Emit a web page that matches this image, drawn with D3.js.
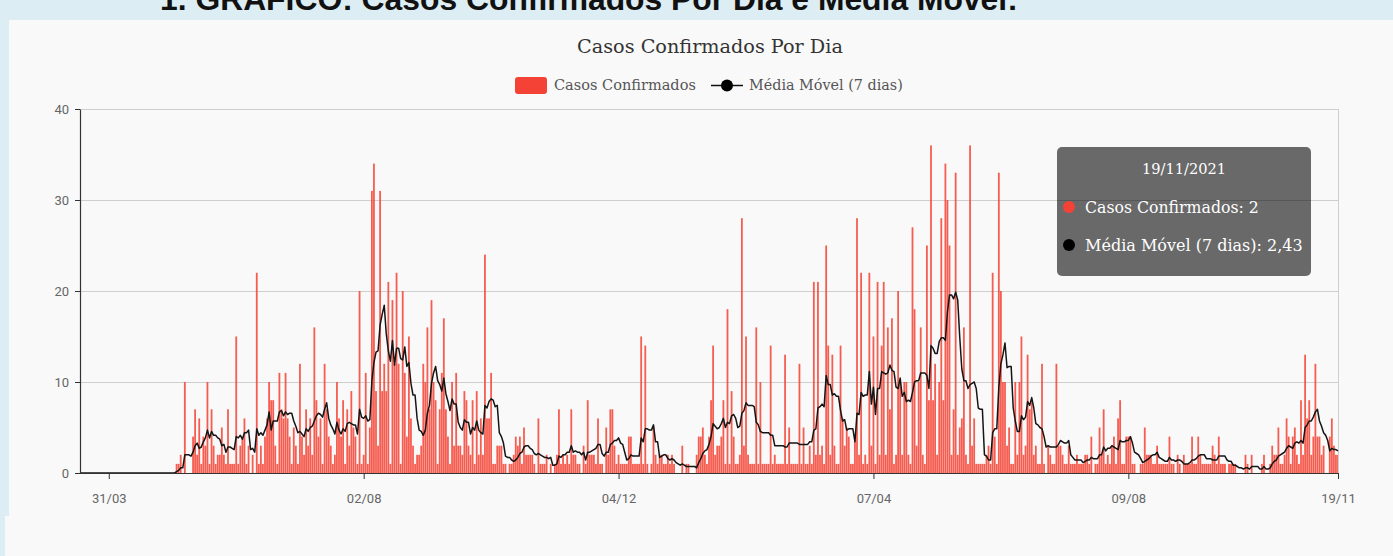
<!DOCTYPE html>
<html>
<head>
<meta charset="utf-8">
<script src="https://cdn.jsdelivr.net/npm/d3@7"></script>
<style>
body { margin: 0; background: #dcedf3; overflow: hidden; }
svg { display: block; }
</style>
</head>
<body>
<svg id="grafico" width="1393" height="556"></svg>
<script>
// casos diários, a partir de 17/03/2020 até 19/11/2021
var dataInicio = "2020-03-17";
var casos = [
    0,0,0,0,0,0,0,0,0,0, 0,0,0,0,0,0,0,0,0,0, 0,0,0,0,0,0,0,0,0,0,
    0,0,0,0,0,0,0,0,0,0, 0,0,0,0,0,0,0,
    1,1,2,0,10,0,0,0,4,7, 2,6,1,4,3,10,1,7,3,1, 2,2,5,2,1,7,1,1,1,15,
    1,3,4,6,1,3,0,2,0,22, 1,3,1,4,6,10,8,8,3,1, 11,7,6,11,6,4,1,5,3,1,
    12,4,2,7,3,6,2,16,8,4, 6,1,12,7,4,3,1,2,10,6, 4,8,1,7,3,9,5,4,1,20,
    1,2,11,1,5,31,34,9,3,31, 9,12,9,21,1,19,12,22,12,1, 20,11,4,15,6,3,1,2,2,3,
    12,10,16,7,19,10,8,1,7,11, 17,7,4,1,10,3,11,3,3,2, 9,8,3,2,8,1,9,2,6,2,
    24,6,6,
    11,1,1,3,3,3,1,1,0,1, 1,2,4,3,4,1,5,2,2,2, 2,1,0,6,1,1,1,2,0,1,
    0,1,2,7,1,2,1,2,1,7, 2,2,1,1,0,3,1,8,2,2, 2,1,6,1,1,0,5,2,7,7,
    3,1,2,1,1,1,1,4,4,1, 1,1,1,15,1,14,1,0,1,5, 2,1,2,2,1,1,2,1,2,1,
    0,0,0,3,0,1,1,0,0,0, 2,4,4,5,2,1,4,8,14,2, 3,3,4,8,1,18,1,9,4,1,
    1,2,28,3,15,2,1,1,1,16, 1,10,1,1,1,1,14,1,2,1, 1,1,1,13,1,5,1,1,1,1,
    12,1,5,1,1,
    3,1,21,2,21,2,3,1,25,14, 2,13,3,1,1,14,6,3,5,4, 1,1,4,28,2,22,1,2,1,22,
    3,15,1,21,2,14,21,2,16,7, 17,1,2,20,10,2,10,10,2,1, 27,18,3,10,16,2,1,25,8,36,
    8,12,2,10,28,8,34,30,25,2, 7,33,2,5,6,16,2,1,36,3, 6,1,1,1,1,1,2,3,1,22,
    4,1,33,20,10,10,3,5,1,1, 10,2,10,15,2,3,13,7,8,2, 3,1,1,12,1,0,3,2,1,1,
    12,3,3,2,1,1,3,1,1,1, 2,1,1,1,2,2,1,4,0,1, 1,5,2,7,1,2,1,3,4,1,
    6,
    8,1,1,4,4,4,1,1,0,0, 1,1,5,2,2,2,1,1,3,1, 1,1,1,1,4,1,1,0,2,1,
    0,2,1,1,1,4,1,1,4,2, 1,1,1,1,1,3,2,1,4,1, 1,1,0,1,1,1,1,0,0,0,
    0,2,1,0,2,0,0,0,0,1, 2,0,0,1,
    3,2,2,5,1,1,2,6,4,1, 4,5,2,1,8,2,13,6,8,2, 4,12,4,4,2,3,0,0,4,6,
    3,2,2
];
var tickDatas = ["2020-03-31", "2020-08-02", "2020-12-04", "2021-04-07", "2021-08-09", "2021-11-19"];
var tickLabels = ["31/03", "02/08", "04/12", "07/04", "09/08", "19/11"];
var yTicks = [0, 10, 20, 30, 40];
var serieNomes = ["Casos Confirmados", "Média Móvel (7 dias)"];

var parseTime = d3.timeParse("%Y-%m-%d"),
    formatTooltip = d3.timeFormat("%d/%m/%Y"),
    formatMedia = d3.format(".2f");

var inicio = parseTime(dataInicio);

// média móvel de 7 dias
var data = casos.map(function(v, i) {
    var janela = casos.slice(Math.max(0, i - 6), i + 1);
    return { date: d3.timeDay.offset(inicio, i), casos: v, media: d3.mean(janela) };
});

var svg = d3.select("#grafico"),
    margin = {top: 109, right: 55, bottom: 83, left: 80},
    W = 1393, H = 556;

var serif = "'DejaVu Serif', serif",
    sans = "Roboto, 'Liberation Sans', sans-serif";

// ajusta o tamanho da fonte para a largura desejada
function fit(sel, size, largura) {
    sel.attr("font-size", size);
    var w = sel.node().getComputedTextLength();
    sel.attr("font-size", size * largura / w);
    return sel;
}

// fundo e painel
svg.append("rect").attr("width", W).attr("height", H).attr("fill", "#dcedf3");
svg.append("rect").attr("x", 9).attr("y", 20).attr("width", W - 9).attr("height", H - 20).attr("fill", "#f9f9f9");
svg.append("rect").attr("x", 5).attr("y", 516).attr("width", 10).attr("height", 40).attr("fill", "#f9f9f9");

// cabeçalho cortado no topo
var heading = svg.append("text")
    .attr("x", 160).attr("y", 10)
    .attr("font-family", "'Liberation Sans', Arial, sans-serif")
    .attr("font-weight", "bold")
    .attr("fill", "#111")
    .text("1. GRÁFICO: Casos Confirmados Por Dia e Média Móvel:");
fit(heading, 30, 858);

var x = d3.scaleTime()
    .domain([inicio, data[data.length - 1].date])
    .range([margin.left, W - margin.right]);

var y = d3.scaleLinear()
    .domain([0, 40])
    .range([H - margin.bottom, margin.top]);

// título
var titulo = svg.append("text")
    .attr("x", 710).attr("y", 53)
    .attr("text-anchor", "middle")
    .attr("font-family", serif)
    .attr("fill", "#333")
    .text("Casos Confirmados Por Dia");
fit(titulo, 17, 266);

// legenda
var leg = svg.append("g").attr("font-family", serif).attr("fill", "#555");
leg.append("rect").attr("x", 515).attr("y", 77).attr("width", 32).attr("height", 17).attr("rx", 3)
    .attr("fill", "#f44336");
fit(leg.append("text").attr("x", 554).attr("y", 90).text(serieNomes[0]), 13, 142);
leg.append("line").attr("x1", 711).attr("x2", 743).attr("y1", 85.5).attr("y2", 85.5)
    .attr("stroke", "#111").attr("stroke-width", 1.5);
leg.append("circle").attr("cx", 727).attr("cy", 85.5).attr("r", 6).attr("fill", "#000");
fit(leg.append("text").attr("x", 749).attr("y", 90).text(serieNomes[1]), 13, 154);

// grade
svg.append("g")
    .selectAll("line")
    .data(yTicks.slice(1))
    .join("line")
    .attr("x1", margin.left).attr("x2", W - margin.right)
    .attr("y1", d => y(d) + 0.5).attr("y2", d => y(d) + 0.5)
    .attr("stroke", "#cfcfcf");

svg.append("line")
    .attr("x1", W - margin.right + 0.5).attr("x2", W - margin.right + 0.5)
    .attr("y1", margin.top).attr("y2", H - margin.bottom)
    .attr("stroke", "#cfcfcf");

svg.append("clipPath").attr("id", "area")
    .append("rect")
    .attr("x", margin.left).attr("y", margin.top)
    .attr("width", W - margin.right - margin.left)
    .attr("height", H - margin.bottom - margin.top);

// barras
svg.append("g")
    .attr("clip-path", "url(#area)")
    .selectAll("rect")
    .data(data.filter(d => d.casos > 0))
    .join("rect")
    .attr("x", d => x(d.date) - 0.9)
    .attr("width", 1.8)
    .attr("y", d => y(d.casos))
    .attr("height", d => y(0) - y(d.casos))
    .attr("fill", "#f44336")
    .attr("fill-opacity", 0.86);

// média móvel
var line = d3.line()
    .x(d => x(d.date))
    .y(d => y(d.media));

svg.append("path")
    .datum(data)
    .attr("fill", "none")
    .attr("stroke", "#151515")
    .attr("stroke-width", 1.5)
    .attr("stroke-linejoin", "round")
    .attr("d", line);

// eixos
var xAxis = d3.axisBottom(x)
    .tickValues(tickDatas.map(parseTime))
    .tickFormat((d, i) => tickLabels[i])
    .tickSize(6)
    .tickPadding(15)
    .tickSizeOuter(0);

var yAxis = d3.axisLeft(y)
    .tickValues(yTicks)
    .tickSize(5)
    .tickPadding(6)
    .tickSizeOuter(0);

var gx = svg.append("g")
    .attr("transform", "translate(0," + (H - margin.bottom) + ")")
    .call(xAxis);
gx.select(".domain").attr("d", "M" + (margin.left - 5) + ",0.5H" + (W - margin.right + 1));

var gy = svg.append("g")
    .attr("transform", "translate(" + margin.left + ",0)")
    .call(yAxis);

[gx, gy].forEach(function(g) {
    g.select(".domain").attr("stroke", "#333").attr("stroke-width", 1.2);
    g.selectAll(".tick line").attr("stroke", "#333");
    g.selectAll("text").attr("font-family", sans).attr("font-size", 13).attr("fill", "#666");
});

// tooltip do último dia
var ultimo = data[data.length - 1];
var tip = svg.append("g").attr("font-family", serif).attr("fill", "#fff");
tip.append("rect")
    .attr("x", 1057).attr("y", 147).attr("width", 254).attr("height", 129).attr("rx", 5)
    .attr("fill", "#000").attr("fill-opacity", 0.58);
fit(tip.append("text")
    .attr("x", 1184).attr("y", 174)
    .attr("text-anchor", "middle")
    .text(formatTooltip(ultimo.date)), 14.5, 84);
tip.append("circle").attr("cx", 1069).attr("cy", 207).attr("r", 6).attr("fill", "#f44336");
fit(tip.append("text").attr("x", 1085).attr("y", 213)
    .text(serieNomes[0] + ": " + ultimo.casos), 15, 174);
tip.append("circle").attr("cx", 1069).attr("cy", 245).attr("r", 6).attr("fill", "#000");
fit(tip.append("text").attr("x", 1085).attr("y", 251)
    .text(serieNomes[1] + ": " + formatMedia(ultimo.media).replace(".", ",")), 15, 218);
</script>
</body>
</html>
